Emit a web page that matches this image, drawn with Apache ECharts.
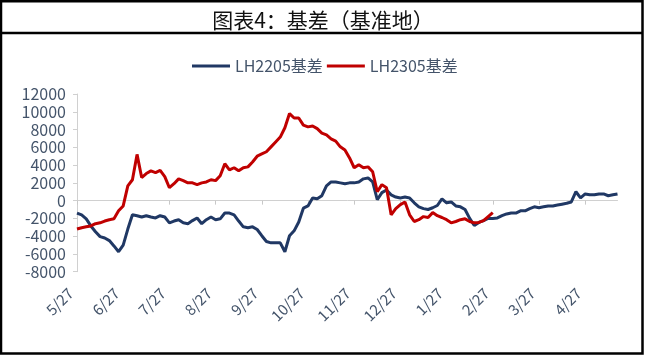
<!DOCTYPE html>
<html><head><meta charset="utf-8">
<script src="https://cdn.jsdelivr.net/npm/echarts@6/dist/echarts.min.js"></script>
<style>html,body{margin:0;padding:0;background:#fff}#c{width:646px;height:356px}</style>
</head><body><div id="c"></div>
<script>
// Month tick labels (one every 10 points)
const monthLabels = ['5/27','6/27','7/27','8/27','9/27','10/27','11/27','12/27','1/27','2/27','3/27','4/27'];
const pointsPerMonth = 10;

// LH2205 basis
const lh2205 = [
  -1400,-1600,-2050,-2850,-3500,-4050,-4200,-4500,-5100,-5750,
  -5000,-3200,-1600,-1700,-1850,-1700,-1850,-1950,-1700,-1850,
  -2500,-2300,-2150,-2500,-2600,-2250,-1950,-2600,-2150,-1850,
  -2150,-2050,-1400,-1400,-1600,-2300,-2950,-3050,-2950,-3250,
  -3950,-4600,-4750,-4750,-4750,-5750,-3950,-3400,-2400,-850,
  -600,300,200,550,1650,2100,2100,2000,1900,2000,
  2000,2100,2450,2550,2100,100,900,1200,650,400,
  300,400,300,-250,-700,-900,-1000,-800,-550,200,
  -250,-150,-600,-700,-1000,-2000,-2800,-2450,-2250,-2000,
  -2000,-1950,-1700,-1500,-1400,-1400,-1150,-1150,-900,-700,
  -800,-700,-600,-600,-500,-400,-300,-150,1000,300,
  750,650,650,750,750,550,650,750
];

// LH2305 basis
const lh2305 = [
  -3200,-3050,-2950,-2850,-2600,-2500,-2300,-2150,-2050,-1150,
  -600,1650,2350,5200,2600,3050,3350,3150,3400,2700,
  1450,1900,2450,2250,2000,2000,1800,2000,2100,2350,
  2250,2800,4150,3450,3700,3350,3700,3800,4350,5000,
  5250,5500,6050,6600,7150,8200,9800,9300,9300,8500,
  8300,8400,8100,7600,7400,6950,6700,6050,5700,4800,
  3700,4050,3700,3800,3250,1000,1800,1450,-1600,-900,
  -450,-150,-1600,-2350,-2150,-1800,-1900,-1350,-1700,-1900,
  -2150,-2500,-2350,-2150,-2050,-2350,-2500,-2450,-2250,-1800,
  -1350
];

const yTicks = { min: -8000, max: 12000, interval: 2000 };

const categories = lh2205.map((_, i) => String(i));
const showIdx = (idx) => idx % pointsPerMonth === 0;
const labelColor = '#44546A';
const font = '"Noto Sans CJK SC", "Noto Sans", sans-serif';

const chart = echarts.init(document.getElementById('c'), null, { renderer: 'canvas' });
chart.setOption({
  backgroundColor: '#fff',
  animation: false,
  title: {
    text: '图表4：基差（基准地）',
    left: 'center',
    top: 5,
    textStyle: { fontSize: 21, fontWeight: 'normal', color: '#111', fontFamily: font }
  },
  legend: {
    left: 187,
    top: 53,
    itemWidth: 38,
    itemHeight: 3,
    itemGap: 4,
    icon: 'rect',
    textStyle: { fontSize: 16, color: labelColor, fontFamily: font },
    data: ['LH2205基差', 'LH2305基差']
  },
  grid: [
    { left: 77, right: 28.5, top: 94, bottom: 84.3 },
    { left: 70.5, right: 35, top: 94, bottom: 84.3 }
  ],
  xAxis: [
    {
      type: 'category', gridIndex: 0, data: categories, boundaryGap: false,
      axisLine: { onZero: true, lineStyle: { color: '#d0d0d0', width: 1 } },
      axisTick: { show: true, interval: showIdx, length: 4, lineStyle: { color: '#c8c8c8' } },
      axisLabel: { show: false },
      splitLine: { show: false }
    },
    {
      type: 'category', gridIndex: 1, data: categories, boundaryGap: false,
      axisLine: { show: false }, axisTick: { show: false },
      axisLabel: {
        interval: showIdx,
        formatter: (v, idx) => monthLabels[idx / pointsPerMonth] || '',
        rotate: 45, margin: 19, fontSize: 15, color: labelColor, fontFamily: font
      },
      splitLine: { show: false }
    }
  ],
  yAxis: [
    {
      type: 'value', gridIndex: 0, min: yTicks.min, max: yTicks.max, interval: yTicks.interval,
      axisLine: { show: true, lineStyle: { color: '#d0d0d0' } },
      axisTick: { show: true, length: 4, lineStyle: { color: '#d0d0d0' } },
      axisLabel: { margin: 11, fontSize: 16, color: labelColor, fontFamily: font,
                   formatter: (v) => String(v) },
      splitLine: { show: false }
    },
    { type: 'value', gridIndex: 1, min: yTicks.min, max: yTicks.max, show: false }
  ],
  series: [
    {
      name: 'LH2205基差', type: 'line', xAxisIndex: 0, yAxisIndex: 0,
      data: lh2205, symbol: 'none', smooth: false,
      lineStyle: { color: '#203864', width: 3 }, itemStyle: { color: '#203864' }, z: 3
    },
    {
      name: 'LH2305基差', type: 'line', xAxisIndex: 0, yAxisIndex: 0,
      data: lh2305, symbol: 'none', smooth: false,
      lineStyle: { color: '#C00000', width: 3 }, itemStyle: { color: '#C00000' }, z: 4
    }
  ],
  graphic: [
    { type: 'rect', shape: { x: 1, y: 1.25, width: 641.5, height: 352.25 },
      style: { fill: 'none', stroke: '#000', lineWidth: 2.5 }, z: 100 },
    { type: 'line', shape: { x1: 0, y1: 33, x2: 643, y2: 33 },
      style: { stroke: '#000', lineWidth: 2.5 }, z: 100 }
  ]
});
</script>
</body></html>
